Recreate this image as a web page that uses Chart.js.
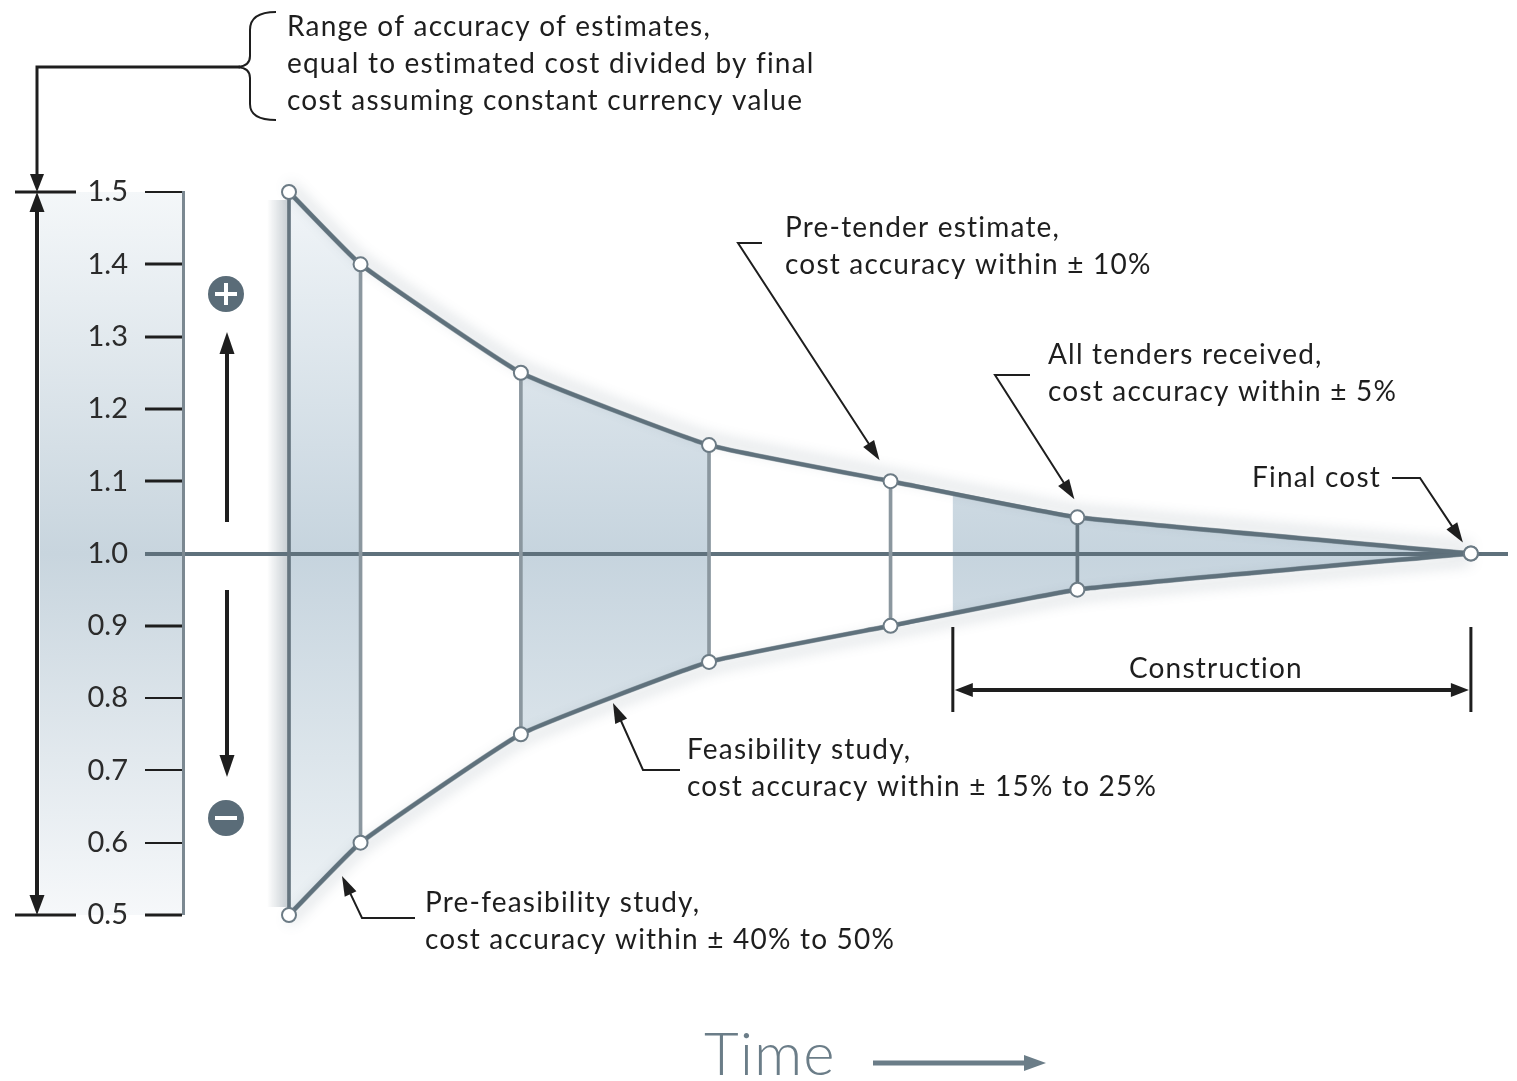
<!DOCTYPE html>
<html>
<head>
<meta charset="utf-8">
<script src="https://cdn.jsdelivr.net/npm/chart.js@4.4.1/dist/chart.umd.min.js"></script>
<style>
  html, body { margin: 0; padding: 0; background: #fff; }
  canvas { display: block; }
</style>
</head>
<body>
<canvas id="funnel" width="1517" height="1081"></canvas>
<script>
// estimate stages along the time axis (arbitrary time units 0..100)
const stageTimes = [8, 13.4, 25.5, 39.7, 53.4, 67.5, 97.2];
// estimated cost / final cost at each stage
const upperBound = [1.5, 1.4, 1.25, 1.15, 1.1, 1.05, 1.0];
const lowerBound = [0.5, 0.6, 0.75, 0.85, 0.9, 0.95, 1.0];
const constructionPeriod = [58.1, 97.2];
const yTicks = [0.5, 0.6, 0.7, 0.8, 0.9, 1.0, 1.1, 1.2, 1.3, 1.4, 1.5];

const shadedBands = [
  [stageTimes[0], stageTimes[1]],
  [stageTimes[2], stageTimes[3]],
  constructionPeriod
];

const LINE = '#5f717c';
const INK = '#1e1e1e';
const FONT = 'Lato, "Noto Sans", sans-serif';
const TENSION = 0.12;

// pattern with the light blue bands between the curves
function funnelFill(chart) {
  const area = chart.chartArea;
  if (!area) return 'rgba(0,0,0,0)';
  const x = chart.scales.x;
  const off = document.createElement('canvas');
  off.width = chart.width;
  off.height = chart.height;
  const c = off.getContext('2d');
  const g = c.createLinearGradient(0, area.top, 0, area.bottom);
  g.addColorStop(0, '#f1f5f8');
  g.addColorStop(0.5, '#c6d4de');
  g.addColorStop(1, '#edf2f5');
  c.fillStyle = g;
  shadedBands.forEach(([a, b]) => {
    const x0 = x.getPixelForValue(a);
    const x1 = x.getPixelForValue(b);
    c.fillRect(x0, area.top, x1 - x0, area.bottom - area.top);
  });
  return chart.ctx.createPattern(off, 'no-repeat');
}

function head(ctx, tx, ty, fx, fy, len, wid) {
  const a = Math.atan2(ty - fy, tx - fx);
  ctx.beginPath();
  ctx.moveTo(tx, ty);
  ctx.lineTo(tx - len * Math.cos(a) + wid / 2 * Math.sin(a), ty - len * Math.sin(a) - wid / 2 * Math.cos(a));
  ctx.lineTo(tx - len * Math.cos(a) - wid / 2 * Math.sin(a), ty - len * Math.sin(a) + wid / 2 * Math.cos(a));
  ctx.closePath();
  ctx.fill();
}

function lines(ctx, txt, x, y, lh) {
  txt.forEach((t, i) => ctx.fillText(t, x, y + i * lh));
}

const background = {
  id: 'background',
  beforeDraw(chart) {
    const { ctx, scales: { x, y } } = chart;
    const top = y.getPixelForValue(1.5), bot = y.getPixelForValue(0.5);
    ctx.save();
    // band behind the value axis
    const g = ctx.createLinearGradient(0, top, 0, bot);
    g.addColorStop(0, '#f4f7f9');
    g.addColorStop(0.5, '#c8d5de');
    g.addColorStop(1, '#f6f8fa');
    ctx.fillStyle = g;
    ctx.fillRect(40, top, y.right - 40, bot - top);
    // soft shadow left of the first stage
    const x0 = x.getPixelForValue(stageTimes[0]);
    const s = ctx.createLinearGradient(x0 - 22, 0, x0, 0);
    s.addColorStop(0, 'rgba(110,128,140,0)');
    s.addColorStop(1, 'rgba(110,128,140,0.4)');
    ctx.fillStyle = s;
    ctx.fillRect(x0 - 22, top + 8, 22, bot - top - 16);
    ctx.restore();
  }
};

const glow = {
  id: 'glow',
  beforeDatasetDraw(chart, args) {
    const ds = chart.data.datasets[args.index];
    if (!ds.glowOffset) return;
    const ctx = chart.ctx;
    ctx.save();
    ctx.shadowColor = 'rgba(80,100,115,0.55)';
    ctx.shadowBlur = 14;
    ctx.shadowOffsetY = ds.glowOffset;
  },
  afterDatasetDraw(chart, args) {
    if (chart.data.datasets[args.index].glowOffset) chart.ctx.restore();
  }
};

const annotations = {
  id: 'annotations',
  afterDraw(chart) {
    const { ctx, scales: { x, y } } = chart;
    const px = t => x.getPixelForValue(t);
    const py = v => y.getPixelForValue(v);
    const top = py(1.5), bot = py(0.5);
    ctx.save();
    ctx.fillStyle = INK;
    ctx.strokeStyle = INK;
    ctx.lineCap = 'butt';
    ctx.font = '28px ' + FONT;
    ctx.letterSpacing = '1.2px';
    ctx.textBaseline = 'middle';

    // header note and its bracket
    lines(ctx, ['Range of accuracy of estimates,',
      'equal to estimated cost divided by final',
      'cost assuming constant currency value'], 287, 27, 37);
    ctx.lineWidth = 2;
    ctx.beginPath();
    ctx.moveTo(276, 12);
    ctx.quadraticCurveTo(250, 12, 250, 30);
    ctx.lineTo(250, 56);
    ctx.quadraticCurveTo(250, 66, 238, 67);
    ctx.quadraticCurveTo(250, 68, 250, 78);
    ctx.lineTo(250, 104);
    ctx.quadraticCurveTo(250, 120, 276, 120);
    ctx.stroke();

    // leader from bracket to the range arrow
    ctx.lineWidth = 3;
    ctx.beginPath();
    ctx.moveTo(240, 67);
    ctx.lineTo(37, 67);
    ctx.lineTo(37, top - 16);
    ctx.stroke();
    head(ctx, 37, top, 37, top - 30, 18, 14);

    // range arrow 0.5 .. 1.5
    ctx.lineWidth = 4;
    ctx.beginPath();
    ctx.moveTo(37, top + 14);
    ctx.lineTo(37, bot - 14);
    ctx.stroke();
    head(ctx, 37, top, 37, top + 30, 20, 15);
    head(ctx, 37, bot, 37, bot - 30, 20, 15);
    ctx.lineWidth = 3;
    ctx.beginPath();
    ctx.moveTo(15, top); ctx.lineTo(76, top);
    ctx.moveTo(15, bot); ctx.lineTo(76, bot);
    ctx.stroke();

    // plus / minus
    ctx.lineWidth = 4;
    ctx.beginPath();
    ctx.moveTo(227, 522); ctx.lineTo(227, 350);
    ctx.moveTo(227, 590); ctx.lineTo(227, 760);
    ctx.stroke();
    head(ctx, 227, 332, 227, 360, 22, 15);
    head(ctx, 227, 777, 227, 750, 22, 15);
    [[294, true], [818, false]].forEach(([cy, plus]) => {
      ctx.fillStyle = '#5a6c78';
      ctx.beginPath();
      ctx.arc(226, cy, 18, 0, Math.PI * 2);
      ctx.fill();
      ctx.strokeStyle = '#fff';
      ctx.lineWidth = 4;
      ctx.beginPath();
      ctx.moveTo(215, cy); ctx.lineTo(237, cy);
      if (plus) { ctx.moveTo(226, cy - 11); ctx.lineTo(226, cy + 11); }
      ctx.stroke();
    });
    ctx.fillStyle = INK;
    ctx.strokeStyle = INK;

    // callouts
    const callouts = [
      { text: ['Pre-tender estimate,', 'cost accuracy within \u00b1 10%'], tx: 785, ty: 228,
        path: [[762, 243], [738, 243]], tip: [px(stageTimes[4]) - 11, py(upperBound[4]) - 21] },
      { text: ['All tenders received,', 'cost accuracy within \u00b1 5%'], tx: 1048, ty: 355,
        path: [[1030, 375], [995, 375]], tip: [px(stageTimes[5]) - 3, py(upperBound[5]) - 18] },
      { text: ['Final cost'], tx: 1252, ty: 478,
        path: [[1392, 478], [1420, 478]], tip: [px(stageTimes[6]) - 8, py(upperBound[6]) - 11] },
      { text: ['Feasibility study,', 'cost accuracy within \u00b1 15% to 25%'], tx: 687, ty: 750,
        path: [[680, 770], [643, 770]], tip: [613, 703] },
      { text: ['Pre-feasibility study,', 'cost accuracy within \u00b1 40% to 50%'], tx: 425, ty: 903,
        path: [[415, 918], [362, 918]], tip: [342, 876] }
    ];
    callouts.forEach(c => {
      lines(ctx, c.text, c.tx, c.ty, 37);
      ctx.lineWidth = 2;
      ctx.beginPath();
      ctx.moveTo(c.path[0][0], c.path[0][1]);
      ctx.lineTo(c.path[1][0], c.path[1][1]);
      const [fx, fy] = c.path[1];
      const d = Math.hypot(c.tip[0] - fx, c.tip[1] - fy);
      ctx.lineTo(c.tip[0] - (c.tip[0] - fx) / d * 14, c.tip[1] - (c.tip[1] - fy) / d * 14);
      ctx.stroke();
      head(ctx, c.tip[0], c.tip[1], fx, fy, 20, 13);
    });

    // construction period
    const c0 = px(constructionPeriod[0]), c1 = px(constructionPeriod[1]);
    ctx.lineWidth = 3;
    ctx.beginPath();
    ctx.moveTo(c0, 627); ctx.lineTo(c0, 712);
    ctx.moveTo(c1, 627); ctx.lineTo(c1, 712);
    ctx.stroke();
    ctx.lineWidth = 4;
    ctx.beginPath();
    ctx.moveTo(c0 + 12, 690); ctx.lineTo(c1 - 12, 690);
    ctx.stroke();
    head(ctx, c0 + 2, 690, c1, 690, 18, 14);
    head(ctx, c1 - 2, 690, c0, 690, 18, 14);
    ctx.textAlign = 'center';
    ctx.fillText('Construction', (c0 + c1) / 2 + 4, 669);

    // time axis label
    ctx.textAlign = 'left';
    ctx.letterSpacing = '1px';
    ctx.fillStyle = '#6b7d88';
    ctx.strokeStyle = '#6b7d88';
    ctx.font = '300 60px ' + FONT;
    ctx.fillText('Time', 704, 1056);
    ctx.lineWidth = 5;
    ctx.beginPath();
    ctx.moveTo(873, 1063); ctx.lineTo(1030, 1063);
    ctx.stroke();
    head(ctx, 1046, 1063, 873, 1063, 22, 16);
    ctx.restore();
  }
};

const toXY = vals => stageTimes.map((t, i) => ({ x: t, y: vals[i] }));

new Chart(document.getElementById('funnel'), {
  type: 'line',
  data: {
    datasets: [
      {
        label: 'Upper range',
        data: toXY(upperBound),
        borderColor: LINE,
        borderWidth: 4,
        tension: TENSION,
        fill: '+1',
        backgroundColor: c => funnelFill(c.chart),
        pointRadius: 7,
        pointBorderWidth: 2,
        pointBackgroundColor: '#fff',
        pointBorderColor: '#6c7b85',
        clip: false
      },
      {
        label: 'Lower range',
        data: toXY(lowerBound),
        borderColor: LINE,
        borderWidth: 4,
        tension: TENSION,
        fill: false,
        pointRadius: 7,
        pointBorderWidth: 2,
        pointBackgroundColor: '#fff',
        pointBorderColor: '#6c7b85',
        clip: false
      },
      {
        label: 'Upper glow',
        data: toXY(upperBound),
        borderColor: 'rgba(95,113,124,0.6)',
        borderWidth: 5,
        tension: TENSION,
        fill: false,
        pointRadius: 0,
        glowOffset: -7,
        clip: false
      },
      {
        label: 'Lower glow',
        data: toXY(lowerBound),
        borderColor: 'rgba(95,113,124,0.6)',
        borderWidth: 5,
        tension: TENSION,
        fill: false,
        pointRadius: 0,
        glowOffset: 7,
        clip: false
      },
      {
        type: 'bar',
        label: 'Stage range',
        data: stageTimes.slice(0, 6).map((t, i) => ({ x: t, y: [lowerBound[i], upperBound[i]] })),
        backgroundColor: c => (c.dataIndex === 0 || c.dataIndex === 5) ? '#65757f' : '#8b979f',
        barThickness: 3,
        clip: false
      }
    ]
  },
  options: {
    responsive: false,
    devicePixelRatio: 1,
    animation: false,
    events: [],
    layout: { padding: { top: 192, bottom: 166, left: 0, right: 0 } },
    plugins: {
      legend: { display: false },
      tooltip: { enabled: false },
      filler: { drawTime: 'beforeDraw' }
    },
    scales: {
      x: {
        type: 'linear',
        min: 0,
        max: 100,
        offset: false,
        display: false,
        grid: { offset: false }
      },
      y: {
        type: 'linear',
        min: 0.5,
        max: 1.5,
        afterFit: s => { s.width = 183; },
        afterBuildTicks: s => { s.ticks = yTicks.map(v => ({ value: v })); },
        border: { display: true, color: '#7b8891', width: 3 },
        grid: {
          drawOnChartArea: true,
          tickLength: 38,
          color: c => (c.tick && c.tick.value === 1) ? LINE : 'rgba(0,0,0,0)',
          lineWidth: c => (c.tick && c.tick.value === 1) ? 4 : 0,
          tickColor: c => (c.tick && c.tick.value === 1) ? LINE : INK,
          tickWidth: c => {
            const v = c.tick ? Math.round(c.tick.value * 10) : 0;
            if (v === 10) return 4;
            return (v >= 6 && v <= 8) || v === 15 ? 2 : 3;
          }
        },
        ticks: {
          color: '#2b2b2b',
          padding: 17,
          font: { family: FONT, size: 29 },
          callback: v => v.toFixed(1)
        }
      }
    }
  },
  plugins: [background, glow, annotations]
});
</script>
</body>
</html>
